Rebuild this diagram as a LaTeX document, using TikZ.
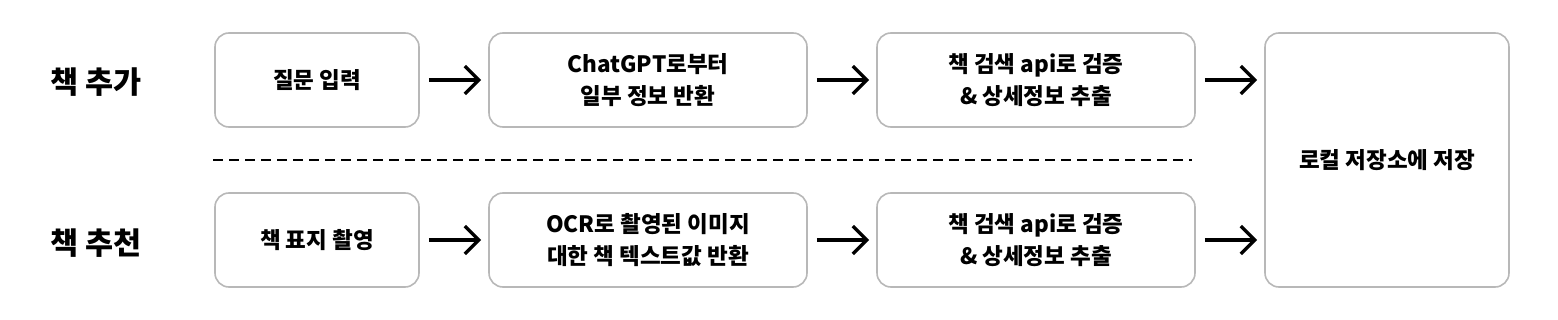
\documentclass[tikz,border=0pt]{standalone}
\usepackage{fontspec}
\setmainfont{Noto Sans CJK KR}
\usetikzlibrary{arrows.meta}
\begin{document}
\begin{tikzpicture}[x=1pt,y=-1pt,
  stepbox/.style={draw=black!28, line width=1.6pt, rounded corners=14pt, fill=white,
    inner sep=0pt, align=center, font=\fontsize{22.5}{32}\selectfont\bfseries},
  rowlabel/.style={font=\fontsize{30.5}{36}\selectfont\bfseries},
  flow/.style={line width=3.4pt, -{Straight Barb[length=14pt,width=28pt,line width=3.4pt]}},
  sep/.style={line width=2.6pt, dash pattern=on 10pt off 6pt}]
\useasboundingbox (0,0) rectangle (1558,320);
\node[rowlabel] (lab1) at (96,82) {책 추가};
\node[rowlabel] (lab2) at (96,243) {책 추천};
\node[stepbox, minimum width=204pt, minimum height=94pt] (b11) at (317,80) {질문 입력};
\node[stepbox, minimum width=318pt, minimum height=94pt] (b12) at (648,80) {ChatGPT로부터\\일부 정보 반환};
\node[stepbox, minimum width=318pt, minimum height=94pt] (b13) at (1036,80) {책 검색 api로 검증\\\& 상세정보 추출};
\node[stepbox, minimum width=204pt, minimum height=94pt] (b21) at (317,240) {책 표지 촬영};
\node[stepbox, minimum width=318pt, minimum height=94pt] (b22) at (648,240) {OCR로 촬영된 이미지\\대한 책 텍스트값 반환};
\node[stepbox, minimum width=318pt, minimum height=94pt] (b23) at (1036,240) {책 검색 api로 검증\\\& 상세정보 추출};
\node[stepbox, minimum width=244pt, minimum height=254pt] (fin) at (1387,160) {로컬 저장소에 저장};
\coordinate (d1) at (213,160);
\coordinate (d2) at (1192,160);
\draw[sep] (d1) -- (d2);
\draw[flow] ([xshift=9pt]b11.east) -- ([xshift=-7pt]b12.west);
\draw[flow] ([xshift=9pt]b12.east) -- ([xshift=-7pt]b13.west);
\draw[flow] ([xshift=9pt]b13.east) -- ([xshift=-7pt]b13.east -| fin.west);
\draw[flow] ([xshift=9pt]b21.east) -- ([xshift=-7pt]b22.west);
\draw[flow] ([xshift=9pt]b22.east) -- ([xshift=-7pt]b23.west);
\draw[flow] ([xshift=9pt]b23.east) -- ([xshift=-7pt]b23.east -| fin.west);
\end{tikzpicture}
\end{document}
